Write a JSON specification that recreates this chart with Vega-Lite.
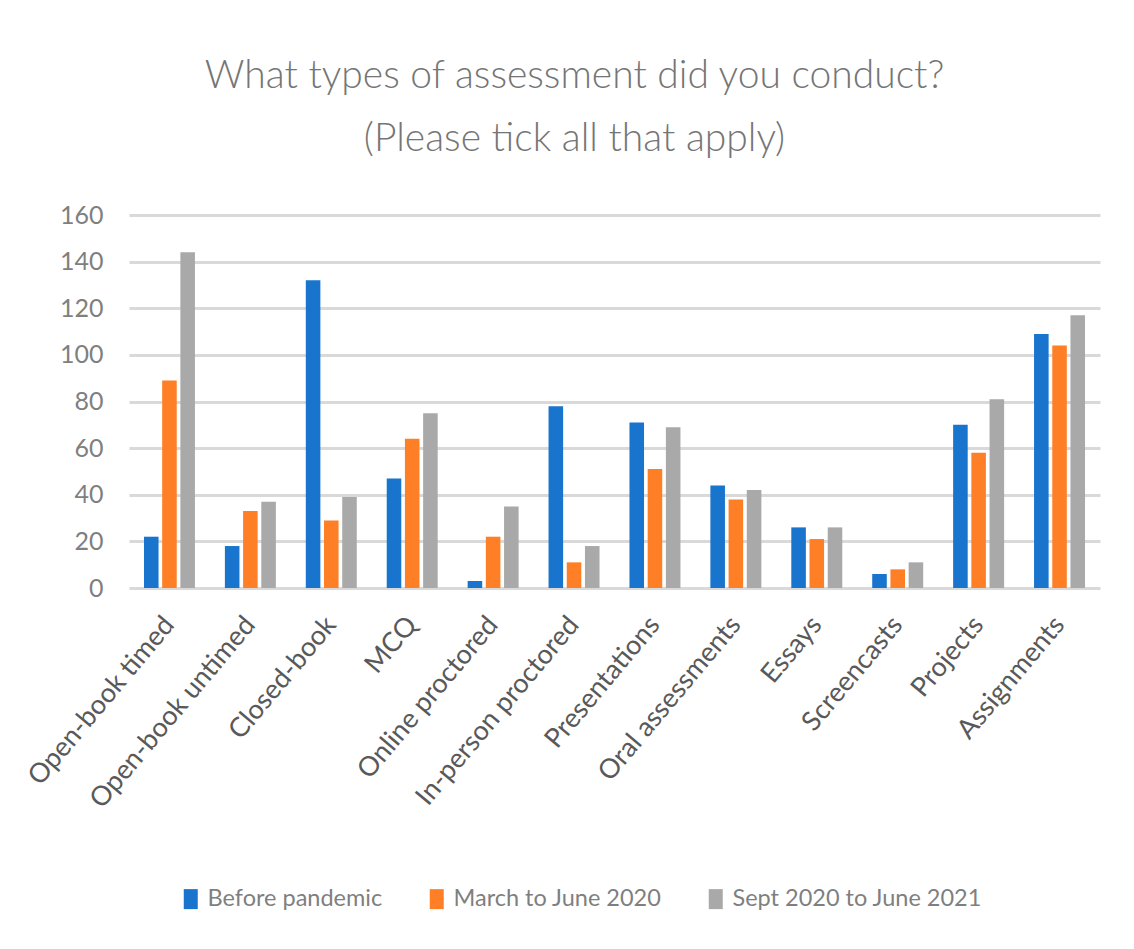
{
  "$schema": "https://vega.github.io/schema/vega-lite/v6.json",
  "width": 971,
  "height": 373,
  "autosize": "none",
  "padding": {"left": 129, "top": 215, "right": 34, "bottom": 361},
  "background": "white",
  "title": {
    "text": ["What types of assessment did you conduct?", "(Please tick all that apply)"],
    "font": "Lato",
    "fontSize": 39,
    "fontWeight": 300,
    "color": "#757575",
    "lineHeight": 63,
    "anchor": "middle",
    "dx": -40,
    "offset": 44
  },
  "data": {
    "values": [
      {"category": "Open-book timed", "period": "Before pandemic", "count": 22},
      {"category": "Open-book timed", "period": "March to June 2020", "count": 89},
      {"category": "Open-book timed", "period": "Sept 2020 to June 2021", "count": 144},
      {"category": "Open-book untimed", "period": "Before pandemic", "count": 18},
      {"category": "Open-book untimed", "period": "March to June 2020", "count": 33},
      {"category": "Open-book untimed", "period": "Sept 2020 to June 2021", "count": 37},
      {"category": "Closed-book", "period": "Before pandemic", "count": 132},
      {"category": "Closed-book", "period": "March to June 2020", "count": 29},
      {"category": "Closed-book", "period": "Sept 2020 to June 2021", "count": 39},
      {"category": "MCQ", "period": "Before pandemic", "count": 47},
      {"category": "MCQ", "period": "March to June 2020", "count": 64},
      {"category": "MCQ", "period": "Sept 2020 to June 2021", "count": 75},
      {"category": "Online proctored", "period": "Before pandemic", "count": 3},
      {"category": "Online proctored", "period": "March to June 2020", "count": 22},
      {"category": "Online proctored", "period": "Sept 2020 to June 2021", "count": 35},
      {"category": "In-person proctored", "period": "Before pandemic", "count": 78},
      {"category": "In-person proctored", "period": "March to June 2020", "count": 11},
      {"category": "In-person proctored", "period": "Sept 2020 to June 2021", "count": 18},
      {"category": "Presentations", "period": "Before pandemic", "count": 71},
      {"category": "Presentations", "period": "March to June 2020", "count": 51},
      {"category": "Presentations", "period": "Sept 2020 to June 2021", "count": 69},
      {"category": "Oral assessments", "period": "Before pandemic", "count": 44},
      {"category": "Oral assessments", "period": "March to June 2020", "count": 38},
      {"category": "Oral assessments", "period": "Sept 2020 to June 2021", "count": 42},
      {"category": "Essays", "period": "Before pandemic", "count": 26},
      {"category": "Essays", "period": "March to June 2020", "count": 21},
      {"category": "Essays", "period": "Sept 2020 to June 2021", "count": 26},
      {"category": "Screencasts", "period": "Before pandemic", "count": 6},
      {"category": "Screencasts", "period": "March to June 2020", "count": 8},
      {"category": "Screencasts", "period": "Sept 2020 to June 2021", "count": 11},
      {"category": "Projects", "period": "Before pandemic", "count": 70},
      {"category": "Projects", "period": "March to June 2020", "count": 58},
      {"category": "Projects", "period": "Sept 2020 to June 2021", "count": 81},
      {"category": "Assignments", "period": "Before pandemic", "count": 109},
      {"category": "Assignments", "period": "March to June 2020", "count": 104},
      {"category": "Assignments", "period": "Sept 2020 to June 2021", "count": 117}
    ]
  },
  "mark": {"type": "bar"},
  "encoding": {
    "x": {
      "field": "category",
      "type": "nominal",
      "sort": null,
      "title": null,
      "scale": {"paddingInner": 0.37, "paddingOuter": 0.185},
      "axis": {
        "labelAngle": -50,
        "labelAlign": "right",
        "labelBaseline": "middle",
        "labelFont": "Lato",
        "labelFontSize": 27,
        "labelColor": "#595959",
        "labelPadding": 32,
        "labelLimit": 400,
        "domain": false,
        "ticks": false,
        "grid": false
      }
    },
    "xOffset": {
      "field": "period",
      "type": "nominal",
      "sort": null,
      "scale": {"paddingInner": 0.2, "paddingOuter": 0}
    },
    "y": {
      "field": "count",
      "type": "quantitative",
      "title": null,
      "scale": {"domain": [0, 160], "nice": false},
      "axis": {
        "values": [0, 20, 40, 60, 80, 100, 120, 140, 160],
        "labelFont": "Lato",
        "labelFontSize": 25,
        "labelColor": "#7f7f7f",
        "labelPadding": 26,
        "domain": false,
        "ticks": false,
        "grid": true,
        "gridColor": "#d9d9d9",
        "gridWidth": 3
      }
    },
    "color": {
      "field": "period",
      "type": "nominal",
      "scale": {
        "domain": ["Before pandemic", "March to June 2020", "Sept 2020 to June 2021"],
        "range": ["#1874CD", "#FF7F27", "#A9A9A9"]
      },
      "legend": {
        "title": null,
        "orient": "none",
        "direction": "horizontal",
        "legendX": 50,
        "legendY": 672,
        "symbolType": "M-0.7,-1L0.7,-1L0.7,1L-0.7,1Z",
        "symbolSize": 400,
        "symbolStrokeWidth": 0,
        "symbolOpacity": 1,
        "labelFont": "Lato",
        "labelFontSize": 23.5,
        "labelColor": "#7f7f7f",
        "labelOffset": 5,
        "columnPadding": 42,
        "labelLimit": 400
      }
    }
  },
  "config": {
    "view": {"stroke": null}
  }
}
